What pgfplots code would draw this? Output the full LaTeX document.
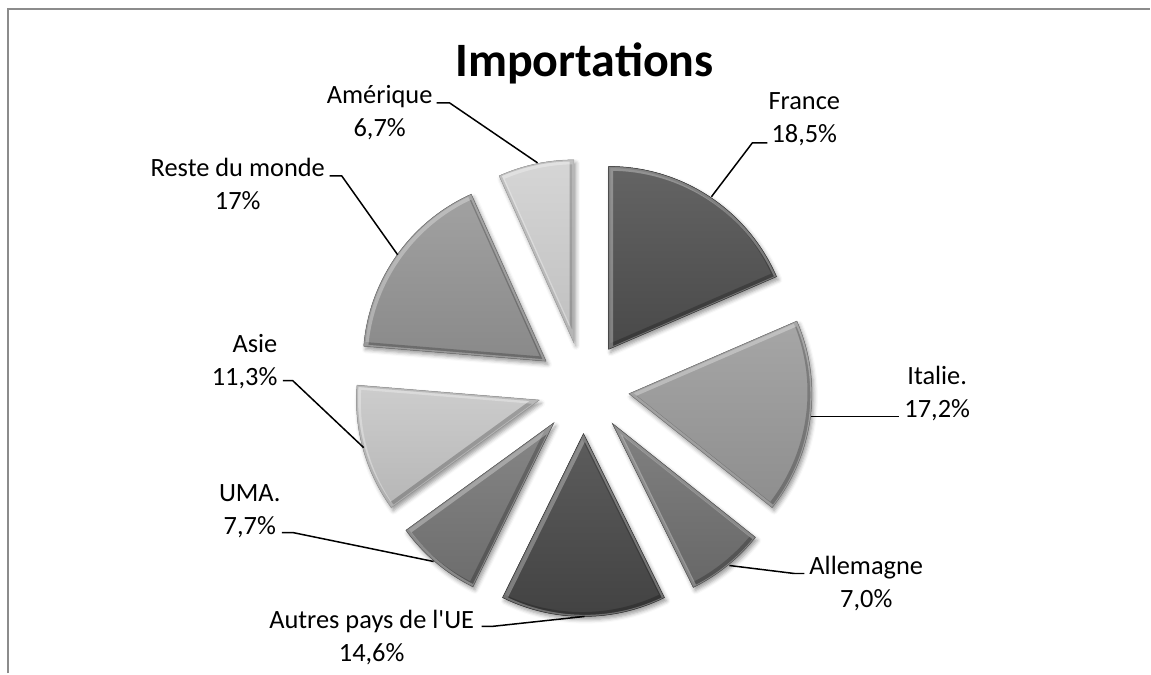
\documentclass[border=0pt]{standalone}
\usepackage{pgfplots}
\pgfplotsset{compat=1.18}
\usepackage{fontspec}
\setmainfont{Carlito}[Ligatures=TeXOff]
\usetikzlibrary{shadows.blur}

\definecolor{s1}{HTML}{4F4F4F}
\definecolor{s2}{HTML}{9A9A9A}
\definecolor{s3}{HTML}{707070}
\definecolor{s4}{HTML}{474747}
\definecolor{s5}{HTML}{767676}
\definecolor{s6}{HTML}{C6C6C6}
\definecolor{s7}{HTML}{959595}
\definecolor{s8}{HTML}{D0D0D0}
\definecolor{framegray}{HTML}{8C8C8C}

% Shares (%), clockwise from 12 o'clock:
% France, Italie., Allemagne, Autres pays de l'UE, UMA., Asie, Reste du monde, Amerique
\def\piedata{18.5,17.2,7.0,14.6,7.7,11.3,17,6.7}

\begin{document}
\begin{tikzpicture}
\gdef\cum{90}
\foreach \v [count=\i] in \piedata {%
  \pgfmathsetmacro\s{\cum}%
  \pgfmathsetmacro\e{\cum-3.6*\v}%
  \pgfmathsetmacro\m{(\s+\e)/2}%
  \pgfmathsetmacro\ax{584+46*cos(\m)}%
  \pgfmathsetmacro\ay{286+46*sin(\m)}%
  \expandafter\xdef\csname pS\i\endcsname{\s}%
  \expandafter\xdef\csname pE\i\endcsname{\e}%
  \expandafter\xdef\csname pX\i\endcsname{\ax}%
  \expandafter\xdef\csname pY\i\endcsname{\ay}%
  \xdef\cum{\e}%
}
\begin{axis}[x=0.5pt,y=0.5pt,xmin=0,xmax=1151,ymin=0,ymax=674,
  hide axis,clip=false,scale only axis]
\path (axis cs:0,0) rectangle (axis cs:1151,674);
% frame
\draw[framegray,line width=1pt] (axis cs:8,0) -- (axis cs:8,665) -- (axis cs:1151,665);
% slices
\pgfplotsinvokeforeach{1,...,8}{
  \fill[blur shadow={shadow xshift=1pt,shadow yshift=-1.6pt,shadow blur radius=2pt,shadow opacity=40},
        top color=s#1!88!white, bottom color=s#1!92!black]
    (axis cs:\csname pX#1\endcsname,\csname pY#1\endcsname) -- ++(\csname pS#1\endcsname:91.5pt)
    arc[start angle=\csname pS#1\endcsname,end angle=\csname pE#1\endcsname,radius=91.5pt] -- cycle;
  \begin{scope}
    \clip (axis cs:\csname pX#1\endcsname,\csname pY#1\endcsname) -- ++(\csname pS#1\endcsname:91.5pt)
      arc[start angle=\csname pS#1\endcsname,end angle=\csname pE#1\endcsname,radius=91.5pt] -- cycle;
    \draw[black,opacity=0.22,line width=3pt,shift={(-0.7pt,0.7pt)}]
      (axis cs:\csname pX#1\endcsname,\csname pY#1\endcsname) -- ++(\csname pS#1\endcsname:91.5pt)
      arc[start angle=\csname pS#1\endcsname,end angle=\csname pE#1\endcsname,radius=91.5pt] -- cycle;
    \draw[white,opacity=0.30,line width=3pt,shift={(0.7pt,-0.7pt)}]
      (axis cs:\csname pX#1\endcsname,\csname pY#1\endcsname) -- ++(\csname pS#1\endcsname:91.5pt)
      arc[start angle=\csname pS#1\endcsname,end angle=\csname pE#1\endcsname,radius=91.5pt] -- cycle;
  \end{scope}
  \draw[s#1!80!black,line width=0.25pt]
    (axis cs:\csname pX#1\endcsname,\csname pY#1\endcsname) -- ++(\csname pS#1\endcsname:91.5pt)
    arc[start angle=\csname pS#1\endcsname,end angle=\csname pE#1\endcsname,radius=91.5pt] -- cycle;
}
% leader lines
\begin{scope}[black,line width=0.75pt]
\draw (axis cs:768,531) -- (axis cs:753,531) -- (axis cs:712,477);
\draw (axis cs:812,257) -- (axis cs:900,257);
\draw (axis cs:730,108) -- (axis cs:795,100) -- (axis cs:805,100);
\draw (axis cs:585,57) -- (axis cs:492,47) -- (axis cs:482,47);
\draw (axis cs:434,112) -- (axis cs:293,141) -- (axis cs:282,141);
\draw (axis cs:364,226) -- (axis cs:293,293) -- (axis cs:283,293);
\draw (axis cs:398,419) -- (axis cs:342,498) -- (axis cs:330,498);
\draw (axis cs:538,511) -- (axis cs:450,571) -- (axis cs:437,571);
\end{scope}
% labels
\begin{scope}[every node/.style={align=center,inner sep=0pt,font=\fontsize{13.2}{16.5}\selectfont}]
\node at (axis cs:805,554.5) {France\\18,5\%};
\node at (axis cs:938,280.5) {Italie.\\17,2\%};
\node at (axis cs:867,89.5) {Allemagne\\7,0\%};
\node at (axis cs:372,35.5) {Autres pays de l'UE\\14,6\%};
\node at (axis cs:250,162.5) {UMA.\\7,7\%};
\node[align=right,anchor=east] at (axis cs:278,312) {Asie\\11,3\%};
\node at (axis cs:238,490) {Reste du monde\\17\%};
\node at (axis cs:380,561.5) {Amérique\\6,7\%};
\end{scope}
\node[anchor=base,inner sep=0pt,font=\fontsize{24}{28}\selectfont\bfseries] at (axis cs:585,597) {Importations};
\end{axis}
\end{tikzpicture}
\end{document}
